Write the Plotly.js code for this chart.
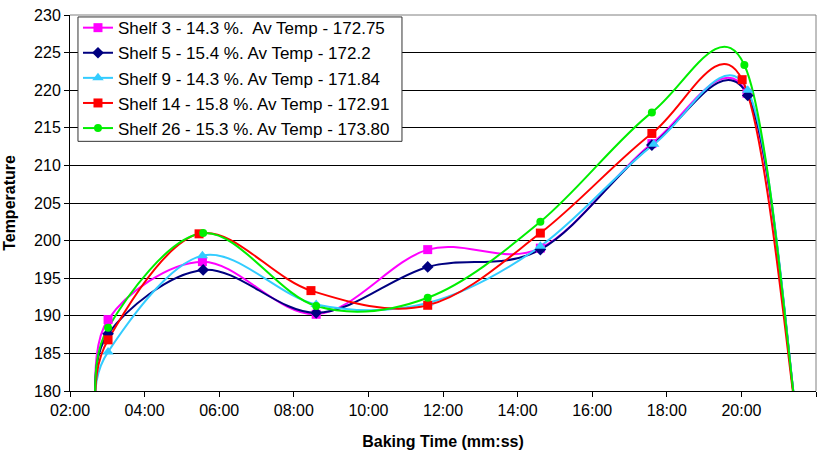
<!DOCTYPE html>
<html>
<head>
<meta charset="utf-8">
<script src="https://cdn.plot.ly/plotly-3.0.1.min.js"></script>
<style>html,body{margin:0;padding:0;background:#fff;}#chart{width:834px;height:466px;}</style>
</head>
<body>
<div id="chart"></div>
<script>
// Baking time in minutes, temperatures
const seriesNames = [
  "Shelf 3 - 14.3 %.\u00a0 Av Temp - 172.75",
  "Shelf 5 - 15.4 %. Av Temp - 172.2",
  "Shelf 9 - 14.3 %. Av Temp - 171.84",
  "Shelf 14 - 15.8 %. Av Temp - 172.91",
  "Shelf 26 - 15.3 %. Av Temp - 173.80"
];
const t3  = [2.66, 3.02, 5.55, 8.60, 11.59, 14.61, 17.60, 20.15, 21.50];
const v3  = [176.5, 189.5, 197.2, 190.2, 198.8, 199.0, 212.9, 219.6, 175.5];
const t5  = [2.66, 3.02, 5.57, 8.60, 11.59, 14.61, 17.60, 20.17, 21.50];
const v5  = [176.5, 187.6, 196.1, 190.4, 196.5, 198.8, 212.7, 219.3, 175.5];
const t9  = [2.66, 3.02, 5.55, 8.60, 11.59, 14.61, 17.65, 20.17, 21.50];
const v9  = [176.5, 185.2, 198.0, 191.5, 191.7, 199.25, 212.8, 220.0, 175.5];
const t14 = [2.66, 3.02, 5.46, 8.46, 11.59, 14.61, 17.60, 20.02, 21.50];
const v14 = [176.5, 186.8, 200.9, 193.35, 191.4, 201.0, 214.25, 221.4, 175.5];
const t26 = [2.66, 3.02, 5.57, 8.60, 11.59, 14.61, 17.60, 20.08, 21.50];
const v26 = [176.5, 188.4, 201.0, 191.3, 192.4, 202.5, 217.05, 223.35, 175.5];

const xTickVals = [2, 4, 6, 8, 10, 12, 14, 16, 18, 20, 22];
const xTickText = ["02:00","04:00","06:00","08:00","10:00","12:00","14:00","16:00","18:00","20:00","22:00"];

const colors = ["#FF00FF", "#000080", "#33CCFF", "#FF0000", "#00EE00"];
const symbols = ["square", "diamond", "triangle-up", "square", "circle"];
const sizes = [9, 9, 10, 9, 8];
const xs = [t3, t5, t9, t14, t26];
const ys = [v3, v5, v9, v14, v26];

// Smoothed line (Catmull-Rom style Bezier, as in the spreadsheet's "smoothed line"),
// expressed in data coordinates so the axes map it.
function smoothPath(x, y) {
  const k = 1 / 6, n = x.length;
  let p = "M" + x[0] + "," + y[0];
  for (let i = 0; i < n - 1; i++) {
    const a = Math.max(i - 1, 0), b = Math.min(i + 2, n - 1);
    const c1x = x[i] + (x[i + 1] - x[a]) * k, c1y = y[i] + (y[i + 1] - y[a]) * k;
    const c2x = x[i + 1] - (x[b] - x[i]) * k, c2y = y[i + 1] - (y[b] - y[i]) * k;
    p += " C" + c1x + "," + c1y + " " + c2x + "," + c2y + " " + x[i + 1] + "," + y[i + 1];
  }
  return p;
}

const traces = [];
xs.forEach((x, i) => {
  traces.push({
    x: x, y: ys[i], name: seriesNames[i], type: "scatter", mode: "markers",
    showlegend: false, hoverinfo: "skip",
    marker: {color: colors[i], symbol: symbols[i], size: sizes[i]}
  });
});
// legend entries (line + marker sample)
xs.forEach((x, i) => {
  traces.push({
    x: [null], y: [null], name: seriesNames[i], type: "scatter", mode: "lines+markers",
    line: {color: colors[i], width: 2},
    marker: {color: colors[i], symbol: symbols[i], size: sizes[i]}
  });
});

const shapes = xs.map((x, i) => ({
  type: "path", xref: "x", yref: "y", path: smoothPath(x, ys[i]),
  line: {color: colors[i], width: 2}, layer: "between"
}));
shapes.push(
  {type: "line", xref: "paper", yref: "paper", x0: 0, x1: 1, y0: 1, y1: 1, line: {color: "#808080", width: 1}, layer: "above"},
  {type: "line", xref: "paper", yref: "paper", x0: 1, x1: 1, y0: 0, y1: 1, line: {color: "#808080", width: 1}, layer: "above"},
  // legend frame
  {type: "rect", xref: "paper", yref: "paper", x0: 0.0107, x1: 0.445, y0: 0.664, y1: 0.9948,
   fillcolor: "#fff", line: {color: "#333", width: 1}, layer: "above"}
);

const layout = {
  width: 834, height: 466,
  margin: {l: 70, r: 18, t: 10, b: 75},
  paper_bgcolor: "#fff", plot_bgcolor: "#fff",
  font: {family: "Arial, 'Liberation Sans', sans-serif", color: "#000", size: 16},
  showlegend: true,
  legend: {
    x: 0.0107, y: 1.013, xanchor: "left", yanchor: "top",
    bgcolor: "rgba(0,0,0,0)", borderwidth: 0,
    font: {size: 17, color: "#000"}, traceorder: "normal",
    itemwidth: 30
  },
  xaxis: {
    range: [2, 22], tickvals: xTickVals, ticktext: xTickText,
    showgrid: false, zeroline: false, showline: true, linecolor: "#000", linewidth: 1,
    ticks: "outside", ticklen: 5, tickcolor: "#000",
    title: {text: "<b>Baking Time (mm:ss)</b>", font: {size: 16}, standoff: 17}
  },
  yaxis: {
    range: [180, 230], dtick: 5, tick0: 180,
    showgrid: true, gridcolor: "#000", gridwidth: 1, zeroline: false,
    showline: true, linecolor: "#000", linewidth: 1,
    ticks: "outside", ticklen: 5, tickcolor: "#000",
    title: {text: "<b>Temperature</b>", font: {size: 16}, standoff: 14}
  },
  shapes: shapes
};

Plotly.newPlot("chart", traces, layout, {displayModeBar: false, staticPlot: true});
</script>
</body>
</html>
